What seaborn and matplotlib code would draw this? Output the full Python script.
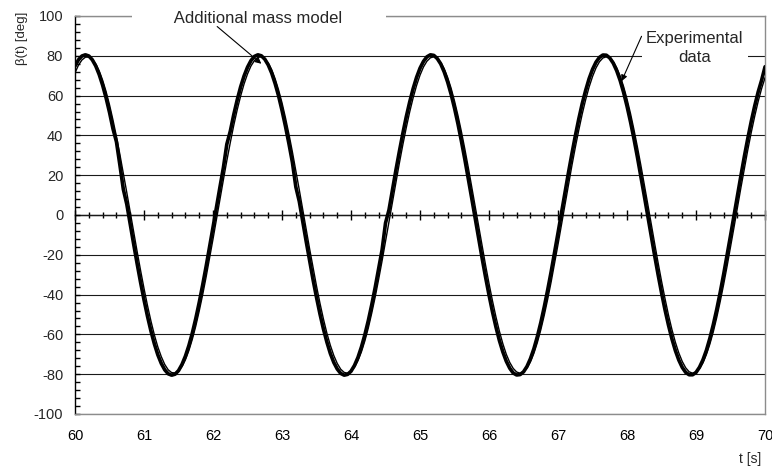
import matplotlib
matplotlib.use("Agg")

import matplotlib.pyplot as plt
import numpy as np
import pandas as pd
import seaborn as sns
from matplotlib.ticker import MultipleLocator

# sample times [s], every 0.05 s between 60 and 70
TIME = np.round(np.arange(60.0, 70.001, 0.05), 2)

# experimental beta(t) [deg] (one row = 0.5 s)
EXPERIMENTAL = [
    74.9, 78.0, 79.9, 80.5, 79.9, 78.0, 74.9, 70.6, 65.2, 58.8,
    51.5, 43.3, 36.8, 25.1, 12.9, 5.4, -4.7, -14.7, -24.5, -33.9,
    -42.7, -50.9, -58.3, -64.8, -70.3, -74.6, -77.8, -79.8, -80.5, -80.0,
    -78.2, -75.1, -70.9, -65.6, -59.3, -52.0, -43.9, -35.1, -25.8, -16.1,
    -6.1, 4.0, 14.0, 23.8, 35.6, 42.1, 50.4, 57.8, 64.4, 69.9,
    74.3, 77.6, 79.7, 80.5, 80.0, 78.3, 75.4, 71.3, 66.0, 59.8,
    52.5, 44.5, 35.8, 26.5, 14.1, 6.8, -3.3, -13.3, -23.1, -32.6,
    -41.5, -49.8, -57.3, -63.9, -69.6, -74.1, -77.4, -79.6, -80.5, -80.1,
    -78.5, -75.6, -71.6, -66.4, -60.2, -53.1, -45.1, -36.4, -27.1, -17.5,
    -4.0, 2.6, 12.6, 22.5, 31.9, 40.9, 49.3, 56.8, 63.5, 69.2,
    73.8, 77.2, 79.5, 80.5, 80.2, 78.6, 75.9, 71.9, 66.8, 60.7,
    53.6, 45.7, 37.0, 27.8, 18.1, 8.2, -1.9, -11.9, -21.8, -31.3,
    -40.3, -48.7, -56.3, -63.1, -68.8, -73.5, -77.0, -79.4, -80.4, -80.2,
    -78.8, -76.1, -72.2, -67.2, -61.1, -54.1, -46.2, -37.6, -28.5, -18.8,
    -8.9, 1.2, 11.2, 21.1, 30.6, 39.7, 48.2, 55.9, 62.6, 68.5,
    73.2, 76.8, 79.2, 80.4, 80.3, 78.9, 76.3, 72.5, 67.6, 61.6,
    54.6, 46.8, 38.3, 29.1, 19.5, 9.6, -0.5, -10.5, -20.4, -30.0,
    -39.1, -47.6, -55.3, -62.2, -68.1, -72.9, -76.6, -79.1, -80.3, -80.3,
    -79.1, -76.5, -72.8, -68.0, -62.0, -55.1, -47.4, -38.9, -29.8, -20.2,
    -10.3, -0.2, 9.8, 19.7, 29.4, 38.5, 47.0, 54.8, 61.8, 67.7,
    74.5,
]

# additional mass model beta(t) [deg]
MODEL = [
    71.5, 75.3, 77.9, 79.3, 79.4, 78.3, 75.9, 72.4, 67.7, 62.0,
    55.3, 47.7, 39.4, 30.4, 21.0, 11.3, 1.3, -8.6, -18.4, -27.9,
    -37.0, -45.5, -53.3, -60.3, -66.3, -71.2, -75.1, -77.8, -79.2, -79.4,
    -78.4, -76.1, -72.7, -68.1, -62.4, -55.8, -48.2, -40.0, -31.1, -21.7,
    -12.0, -2.0, 7.9, 17.7, 27.3, 36.4, 45.0, 52.8, 59.8, 65.9,
    70.9, 74.9, 77.6, 79.2, 79.5, 78.5, 76.3, 73.0, 68.4, 62.8,
    56.3, 48.8, 40.6, 31.7, 22.3, 12.6, 2.7, -7.2, -17.1, -26.6,
    -35.8, -44.4, -52.3, -59.4, -65.5, -70.6, -74.6, -77.5, -79.1, -79.5,
    -78.6, -76.5, -73.2, -68.8, -63.3, -56.8, -49.3, -41.2, -32.3, -23.0,
    -13.3, -3.4, 6.5, 16.4, 26.0, 35.2, 43.8, 51.8, 58.9, 65.1,
    70.3, 74.4, 77.3, 79.0, 79.5, 78.7, 76.7, 73.5, 69.1, 63.7,
    57.2, 49.9, 41.8, 33.0, 23.7, 14.0, 4.1, -5.8, -15.7, -25.3,
    -34.5, -43.2, -51.2, -58.4, -64.7, -70.0, -74.1, -77.1, -78.9, -79.5,
    -78.8, -76.9, -73.8, -69.5, -64.1, -57.7, -50.4, -42.3, -33.6, -24.3,
    -14.7, -4.8, 5.1, 15.0, 24.7, 33.9, 42.6, 50.7, 57.9, 64.3,
    69.6, 73.9, 77.0, 78.9, 79.5, 78.9, 77.1, 74.0, 69.8, 64.5,
    58.2, 51.0, 42.9, 34.2, 25.0, 15.4, 5.5, -4.5, -14.3, -24.0,
    -33.3, -42.0, -50.2, -57.5, -63.9, -69.3, -73.6, -76.8, -78.8, -79.5,
    -79.0, -77.2, -74.3, -70.1, -64.9, -58.7, -51.5, -43.5, -34.9, -25.7,
    -16.1, -6.2, 3.8, 13.7, 23.3, 32.7, 41.5, 49.6, 57.0, 63.5,
    69.0,
]

df = pd.DataFrame({"t": TIME, "exp": EXPERIMENTAL, "model": MODEL})

sns.set_theme(style="white")
plt.rcParams["font.family"] = ["Liberation Sans", "DejaVu Sans"]
plt.rcParams["axes.unicode_minus"] = False

fig = plt.figure(figsize=(7.72, 4.69), dpi=100)
ax = fig.add_axes([0.0972, 0.1173, 0.8938, 0.8486])

GRID = "#1a1a1a"
FRAME = "#8c8c8c"

sns.lineplot(data=df, x="t", y="model", ax=ax, color="black", lw=1.0,
             estimator=None, zorder=4)
sns.lineplot(data=df, x="t", y="exp", ax=ax, color="black", lw=2.6,
             estimator=None, zorder=5)

ax.set_xlim(60, 70)
ax.set_ylim(-100, 100)
ax.xaxis.set_major_locator(MultipleLocator(1))
ax.yaxis.set_major_locator(MultipleLocator(20))
ax.yaxis.set_minor_locator(MultipleLocator(4))

ax.grid(False)
ax.yaxis.grid(True, which="major", color=GRID, lw=0.8)
ax.set_axisbelow(True)
ymaj = ax.yaxis.get_major_ticks()
ymaj[0].gridline.set_visible(False)
ymaj[-1].gridline.set_visible(False)

for side in ["top", "right", "bottom"]:
    ax.spines[side].set_color(FRAME)
    ax.spines[side].set_linewidth(1.0)
ax.spines["left"].set_color("black")
ax.spines["left"].set_linewidth(1.0)

ax.tick_params(axis="x", which="both", length=0, pad=11, labelsize=10.5,
               colors="black")
ax.tick_params(axis="y", which="both", direction="in", length=3.5, width=1,
               pad=8.5, labelsize=10.5, color="black", left=True, right=False)

# zero axis with crossing ticks
zax = ax.secondary_xaxis(0.5)
zax.xaxis.set_major_locator(MultipleLocator(1))
zax.xaxis.set_minor_locator(MultipleLocator(0.2))
zax.tick_params(which="major", direction="inout", length=7, width=1,
                labeltop=False, labelbottom=False, color="black")
zax.tick_params(which="minor", direction="inout", length=5, width=1,
                color="black")
for s in zax.spines.values():
    s.set_color("black")
    s.set_linewidth(1.0)

ax.set_xlabel("t [s]", fontsize=10)
ax.xaxis.set_label_coords(0.978, -0.095)
ax.set_ylabel("β(t) [deg]", fontsize=9.5)
ax.yaxis.set_label_coords(-0.068, 0.945)

box = dict(boxstyle="square,pad=0.1", fc="white", ec="none")
ax.text(62.66, 98.5, "         Additional mass model         ", fontsize=12,
        ha="center", va="center", bbox=box, zorder=6, clip_on=False)
ax.text(68.98, 83.8, "Experimental\ndata", fontsize=12, ha="center",
        va="center", linespacing=1.3,
        bbox=dict(boxstyle="square,pad=0.25", fc="white", ec="none"), zorder=6)

arrow = dict(arrowstyle="-|>", color="black", lw=0.8, mutation_scale=9,
             shrinkA=0, shrinkB=0)
ax.annotate("", xy=(62.70, 76), xytext=(62.06, 94.7), arrowprops=arrow,
            zorder=7)
ax.annotate("", xy=(67.92, 67.2), xytext=(68.21, 89.8), arrowprops=arrow,
            zorder=7)

fig.savefig("out.png", dpi=100)
